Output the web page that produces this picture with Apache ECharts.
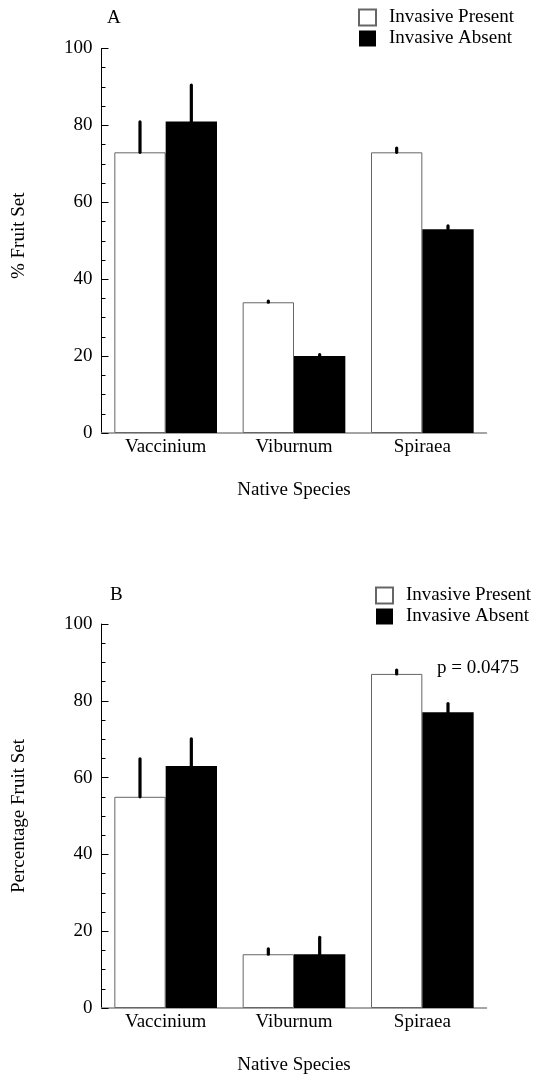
<!DOCTYPE html>
<html><head><meta charset="utf-8">
<script src="https://cdn.jsdelivr.net/npm/echarts@6/dist/echarts.min.js"></script>
<style>html,body{margin:0;padding:0;background:#fff}#c{width:534px;height:1076px}</style>
</head><body><div id="c"></div>
<script>
const categories = ['Vaccinium', 'Viburnum', 'Spiraea'];
const seriesNames = ['Invasive Present', 'Invasive Absent'];
const panelLetters = ['A', 'B'];
const yTitles = ['% Fruit Set', 'Percentage Fruit Set'];
const xTitle = 'Native Species';
// Panel A: means and upper error (SE)
const aPresent = [73, 34, 73];
const aPresentErr = [7.9, 0.3, 1.1];
const aAbsent = [81, 20, 53];
const aAbsentErr = [9.5, 0.4, 0.9];
// Panel B
const bPresent = [55, 14, 87];
const bPresentErr = [9.9, 1.4, 1.0];
const bAbsent = [63, 14, 77];
const bAbsentErr = [7.1, 4.4, 2.3];
const pLabel = 'p = 0.0475';

const F = '"Liberation Serif", "Times New Roman", serif';
const txt = {fontFamily: F, fontSize: 19, color: '#000'};

function errRender(params, api) {
  const i = api.value(0), m = api.value(1), e = api.value(2), side = api.value(3);
  const band = api.size([1, 0], [i, m])[0];
  const p0 = api.coord([i, m]);
  const p1 = api.coord([i, m + e]);
  const x = p0[0] + side * band * 0.2;
  return {type: 'line', shape: {x1: x, y1: p0[1], x2: x, y2: p1[1]},
    style: {stroke: '#000', lineWidth: 3.2, lineCap: 'round'}};
}
function errData(means, errs, side) {
  return means.map((m, i) => [i, m, errs[i], side]);
}
function xAxis(gi) {
  return {type: 'category', gridIndex: gi, data: categories,
    name: xTitle, nameLocation: 'middle', nameGap: 48, nameTextStyle: txt,
    axisLine: {lineStyle: {color: '#888', width: 1.5}},
    axisTick: {show: false},
    axisLabel: Object.assign({margin: 5}, txt)};
}
function yAxis(gi, pad) {
  return {type: 'value', gridIndex: gi, min: 0, max: 100, interval: 20,
    name: yTitles[gi], nameLocation: 'middle', nameRotate: 90, nameGap: 73,
    nameTextStyle: Object.assign({padding: pad}, txt),
    axisLine: {show: true, lineStyle: {color: '#000', width: 1}},
    axisTick: {show: true, inside: true, length: 7, lineStyle: {color: '#000', width: 1}},
    minorTick: {show: true, splitNumber: 4, length: 4, lineStyle: {color: '#000', width: 1}},
    splitLine: {show: false},
    axisLabel: Object.assign({margin: 9}, txt)};
}
function bars(gi, pres, abs) {
  return [
    {type: 'bar', name: seriesNames[0], xAxisIndex: gi, yAxisIndex: gi, data: pres,
      barGap: '0%', barCategoryGap: '20%',
      itemStyle: {color: '#fff', borderColor: '#666', borderWidth: 1}},
    {type: 'bar', name: seriesNames[1], xAxisIndex: gi, yAxisIndex: gi, data: abs,
      barGap: '0%', barCategoryGap: '20%',
      itemStyle: {color: '#000', borderColor: '#000', borderWidth: 0}}
  ];
}
function errs(gi, pres, presE, abs, absE) {
  return {type: 'custom', xAxisIndex: gi, yAxisIndex: gi, renderItem: errRender, z: 5,
    data: errData(pres, presE, -1).concat(errData(abs, absE, 1))};
}
function legend(left, top) {
  return {left: left, top: top, orient: 'vertical', padding: 0, itemWidth: 17, itemHeight: 16,
    itemGap: 2, icon: 'rect', selectedMode: false, data: seriesNames,
    textStyle: Object.assign({}, txt, {padding: [0, 0, 0, 8]})};
}

const chart = echarts.init(document.getElementById('c'), null, {renderer: 'canvas'});
chart.setOption({
  animation: false,
  backgroundColor: '#fff',
  grid: [
    {left: 101.5, top: 48.5, width: 385, height: 384.5},
    {left: 101.5, top: 624, width: 385, height: 385}
  ],
  xAxis: [xAxis(0), xAxis(1)],
  yAxis: [yAxis(0, [0, 0, 0, 10]), yAxis(1, [0, 0, 0, 0])],
  legend: [legend(358, 8), legend(375, 586)],
  graphic: [
    {type: 'text', left: 107, top: 9, style: {text: panelLetters[0], font: '19px ' + F, fill: '#000'}},
    {type: 'text', left: 110, top: 586, style: {text: panelLetters[1], font: '19px ' + F, fill: '#000'}},
    {type: 'text', left: 437, top: 659, style: {text: pLabel, font: '19px ' + F, fill: '#000'}}
  ],
  series: [].concat(
    bars(0, aPresent, aAbsent),
    [errs(0, aPresent, aPresentErr, aAbsent, aAbsentErr)],
    bars(1, bPresent, bAbsent),
    [errs(1, bPresent, bPresentErr, bAbsent, bAbsentErr)]
  )
});
</script></body></html>
